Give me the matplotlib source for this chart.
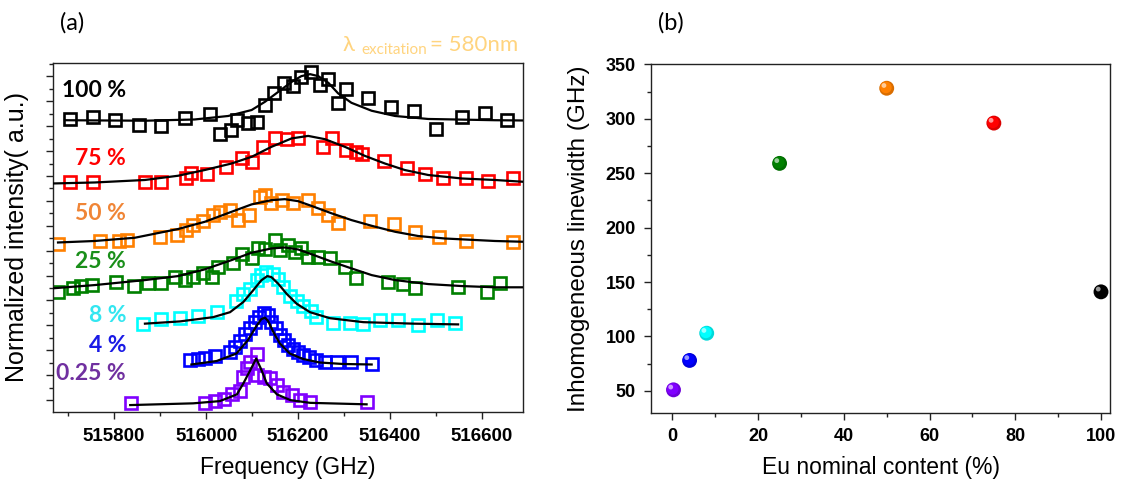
import matplotlib
matplotlib.use("Agg")
import matplotlib.pyplot as plt
from matplotlib.ticker import MultipleLocator, NullFormatter, FormatStrFormatter
from matplotlib.transforms import offset_copy
from matplotlib.colors import to_rgb

plt.rcParams["font.family"] = ["Liberation Sans", "DejaVu Sans"]

# =============================================================================
# (a) spectra, frequency in GHz, intensity in a.u. (curves stacked with offsets)
# =============================================================================
f_100 = [515703, 515753, 515801, 515854, 515901, 515954, 516009, 516031, 516055, 516068,
         516091, 516111, 516128, 516148, 516170, 516189, 516207, 516229, 516247, 516266,
         516286, 516305, 516353, 516403, 516452, 516500, 516556, 516606, 516654]
i_100 = [11.27, 11.35, 11.24, 11.04, 11.00, 11.31, 11.49, 10.68, 10.84, 11.24,
         11.11, 11.18, 11.85, 12.32, 12.74, 12.61, 12.98, 13.18, 12.65, 12.88,
         11.92, 12.48, 12.12, 11.78, 11.61, 10.87, 11.35, 11.55, 11.24]
fitf_100 = [515693, 515867, 515975, 516048, 516099, 516128, 516157, 516186, 516207, 516226,
            516244, 516266, 516287, 516316, 516360, 516411, 516483, 516628, 516688]
fiti_100 = [11.24, 11.22, 11.27, 11.41, 11.65, 11.98, 12.38, 12.78, 13.01, 13.09,
            13.01, 12.74, 12.32, 11.94, 11.62, 11.41, 11.29, 11.24, 11.23]

f_75 = [515703, 515753, 515867, 515903, 515957, 515968, 516002, 516044, 516077, 516099,
        516124, 516149, 516175, 516200, 516255, 516273, 516305, 516327, 516338, 516387,
        516436, 516476, 516516, 516566, 516614, 516668]
i_75 = [8.74, 8.74, 8.74, 8.74, 8.93, 9.13, 9.10, 9.37, 9.71, 9.57,
        10.17, 10.51, 10.48, 10.53, 10.17, 10.53, 10.04, 9.95, 9.87, 9.60,
        9.33, 9.10, 8.93, 8.93, 8.80, 8.90]
fitf_75 = [515667, 515758, 515867, 515939, 515997, 516055, 516099, 516142, 516186, 516222,
           516258, 516302, 516345, 516389, 516432, 516483, 516556, 516628, 516688]
fiti_75 = [8.70, 8.74, 8.84, 9.01, 9.24, 9.50, 9.77, 10.17, 10.51, 10.61,
           10.48, 10.17, 9.81, 9.50, 9.24, 9.04, 8.90, 8.84, 8.77]

f_50 = [515679, 515769, 515810, 515827, 515899, 515936, 515957, 515972, 515994, 516015,
        516030, 516052, 516070, 516093, 516117, 516128, 516142, 516164, 516189, 516222,
        516244, 516265, 516287, 516356, 516409, 516454, 516507, 516566, 516668]
i_50 = [6.25, 6.39, 6.39, 6.43, 6.56, 6.63, 6.83, 7.03, 7.19, 7.43,
        7.56, 7.63, 7.23, 7.43, 8.17, 8.23, 7.90, 8.03, 7.90, 8.03,
        7.70, 7.43, 7.10, 7.19, 7.06, 6.76, 6.56, 6.39, 6.36]
fitf_50 = [515678, 515758, 515845, 515939, 515997, 516055, 516099, 516142, 516171, 516200,
           516229, 516273, 516316, 516360, 516411, 516461, 516519, 516628, 516688]
fiti_50 = [6.33, 6.39, 6.52, 6.87, 7.16, 7.56, 7.86, 8.03, 8.07, 7.99,
           7.80, 7.50, 7.23, 7.00, 6.76, 6.59, 6.49, 6.39, 6.36]

f_25 = [515678, 515711, 515729, 515751, 515805, 515843, 515874, 515903, 515932, 515954,
        515972, 515994, 516012, 516026, 516059, 516077, 516099, 516113, 516128, 516149,
        516160, 516178, 516193, 516207, 516222, 516244, 516269, 516302, 516327, 516396,
        516429, 516454, 516548, 516610, 516639]
i_25 = [4.35, 4.49, 4.58, 4.62, 4.75, 4.58, 4.71, 4.69, 4.95, 4.82,
        4.95, 5.09, 4.95, 5.33, 5.49, 5.86, 5.69, 6.09, 6.05, 6.43,
        6.02, 6.22, 5.96, 6.09, 5.76, 5.76, 5.69, 5.35, 4.89, 4.75,
        4.66, 4.49, 4.53, 4.35, 4.69]
fitf_25 = [515667, 515758, 515867, 515939, 515997, 516055, 516099, 516142, 516171, 516200,
           516229, 516273, 516316, 516360, 516411, 516483, 516556, 516628, 516688]
fiti_25 = [4.49, 4.62, 4.82, 4.98, 5.25, 5.62, 5.92, 6.09, 6.13, 6.05,
           5.86, 5.56, 5.29, 5.02, 4.82, 4.66, 4.58, 4.53, 4.53]

f_8 = [515863, 515903, 515943, 515983, 516023, 516066, 516081, 516095, 516110, 516120,
       516131, 516146, 516157, 516168, 516182, 516197, 516211, 516229, 516240, 516276,
       516313, 516342, 516378, 516418, 516461, 516501, 516541]
i_8 = [3.07, 3.24, 3.29, 3.37, 3.53, 3.96, 4.27, 4.47, 4.81, 5.01,
       5.14, 5.07, 4.87, 4.54, 4.20, 3.96, 3.78, 3.56, 3.33, 3.10,
       3.10, 3.07, 3.20, 3.20, 3.00, 3.20, 3.10]
fitf_8 = [515867, 515943, 516015, 516052, 516081, 516102, 516120, 516133, 516142, 516157,
          516175, 516197, 516226, 516269, 516342, 516451, 516548]
fiti_8 = [3.07, 3.16, 3.33, 3.53, 3.94, 4.40, 4.81, 4.98, 4.94, 4.67,
          4.27, 3.87, 3.53, 3.29, 3.13, 3.07, 3.04]

f_4 = [515965, 515983, 515997, 516019, 516052, 516062, 516073, 516084, 516095, 516106,
       516115, 516126, 516135, 516142, 516152, 516160, 516169, 516178, 516189, 516200,
       516211, 516224, 516240, 516258, 516284, 516316, 516360]
i_4 = [1.61, 1.67, 1.70, 1.78, 1.94, 2.14, 2.37, 2.64, 2.88, 3.15,
       3.35, 3.48, 3.41, 3.15, 2.88, 2.61, 2.41, 2.21, 2.05, 1.94,
       1.83, 1.74, 1.61, 1.54, 1.51, 1.51, 1.43]
fitf_4 = [515968, 516023, 516066, 516091, 516110, 516120, 516128, 516135, 516146, 516160,
          516182, 516211, 516247, 516298, 516360]
fiti_4 = [1.43, 1.57, 1.87, 2.41, 2.99, 3.25, 3.31, 3.17, 2.74, 2.28,
          1.87, 1.65, 1.51, 1.45, 1.43]

f_025 = [515836, 515998, 516019, 516038, 516056, 516074, 516081, 516088, 516096, 516110,
         516110, 516125, 516139, 516154, 516168, 516186, 516204, 516226, 516349]
i_025 = [-0.13, -0.13, -0.04, 0.04, 0.23, 0.36, 0.94, 1.27, 1.54, 1.84,
         1.00, 0.94, 0.87, 0.60, 0.33, 0.20, 0.00, -0.07, -0.07]
fitf_025 = [515835, 515972, 516030, 516067, 516081, 516096, 516109, 516119, 516132, 516154,
            516183, 516226, 516349]
fiti_025 = [-0.20, -0.13, -0.04, 0.23, 0.67, 1.20, 1.67, 1.27, 0.67, 0.23,
            0.00, -0.11, -0.17]

content_labels = ["100 %", "75 %", "50 %", "25 %", "8 %", "4 %", "0.25 %"]
label_y = [12.42, 9.71, 7.50, 5.56, 3.41, 2.21, 1.07]
marker_colors = ["#000000", "#FF0000", "#FF8000", "#008000", "#00FFFF", "#0000FF", "#8000FF"]
text_colors = ["#000000", "#FF0000", "#F08536", "#1A8F1A", "#33E6F0", "#1A1AE6", "#7030A0"]

# =============================================================================
# (b) inhomogeneous linewidth vs Eu content
# =============================================================================
eu_content = [0.25, 4, 8, 25, 50, 75, 100]
linewidth_ghz = [51, 78, 103, 259, 328, 296, 141]
sphere_colors = ["#8000FF", "#0000FF", "#00FFFF", "#008000", "#FF8000", "#FF0000", "#000000"]

# =============================================================================
# FIGURE
# =============================================================================
W, H = 1130, 484
fig = plt.figure(figsize=(W / 100, H / 100), dpi=100)

ax = fig.add_axes([52.5 / W, 1 - 412.3 / H, 470 / W, 349.6 / H])
series = [
    (f_100, i_100, fitf_100, fiti_100),
    (f_75, i_75, fitf_75, fiti_75),
    (f_50, i_50, fitf_50, fiti_50),
    (f_25, i_25, fitf_25, fiti_25),
    (f_8, i_8, fitf_8, fiti_8),
    (f_4, i_4, fitf_4, fiti_4),
    (f_025, i_025, fitf_025, fiti_025),
]
for (fx, iy, ffx, fiy), col in zip(series, marker_colors):
    ax.plot(fx, iy, ls="none", marker="s", ms=8.2, mfc="none", mec=col, mew=1.9, zorder=2)
for (fx, iy, ffx, fiy) in series:
    ax.plot(ffx, fiy, color="black", lw=1.6, zorder=3)

for txt, y, col in zip(content_labels, label_y, text_colors):
    ax.text(515826, y, txt, color=col, fontsize=16.5, fontweight="bold",
            family=["Lato", "DejaVu Sans"], ha="right", va="center", zorder=4)

ax.set_xlim(515666, 516688)
ax.set_ylim(-0.49, 13.55)
ax.xaxis.set_major_locator(MultipleLocator(200))
ax.xaxis.set_minor_locator(MultipleLocator(100))
ax.xaxis.set_major_formatter(FormatStrFormatter("%d"))
ax.yaxis.set_major_locator(MultipleLocator(1))
ax.yaxis.set_minor_locator(MultipleLocator(0.5))
ax.yaxis.set_major_formatter(NullFormatter())
ax.tick_params(which="both", direction="out", top=False, right=False, width=1, colors="#222222")
ax.tick_params(which="major", length=5, pad=6, labelsize=13.5, labelcolor="black")
ax.tick_params(which="minor", length=3)
for lbl in ax.get_xticklabels():
    lbl.set_fontweight("bold")
for s in ax.spines.values():
    s.set_linewidth(1.0)
    s.set_color("#222222")
ax.set_xlabel("Frequency (GHz)", fontsize=16.5)
ax.set_ylabel("Normalized intensity( a.u.)", fontsize=18)
ax.xaxis.set_label_coords(0.5, -0.125)
ax.yaxis.set_label_coords(-0.051, 0.5)

# --- panel (b) ---
ax2 = fig.add_axes([651 / W, 1 - 412.7 / H, 459 / W, 348.4 / H])


def lighter(c, amt):
    r, g, b = to_rgb(c)
    return (r + (1 - r) * amt, g + (1 - g) * amt, b + (1 - b) * amt)


def darker(c, amt):
    r, g, b = to_rgb(c)
    return (r * (1 - amt), g * (1 - amt), b * (1 - amt))


ax2.scatter(eu_content, linewidth_ghz, s=115, c=[darker(c, 0.15) for c in sphere_colors],
            edgecolors="none", zorder=3)
hl1 = offset_copy(ax2.transData, fig=fig, x=-0.6, y=0.6, units="points")
ax2.scatter(eu_content, linewidth_ghz, s=70, c=sphere_colors, edgecolors="none",
            transform=hl1, zorder=4)
hl2 = offset_copy(ax2.transData, fig=fig, x=-2.0, y=2.0, units="points")
ax2.scatter(eu_content, linewidth_ghz, s=12, c=[lighter(c, 0.6) for c in sphere_colors],
            edgecolors="none", transform=hl2, zorder=5)

ax2.set_xlim(-5, 102.1)
ax2.set_ylim(30, 350)
ax2.xaxis.set_major_locator(MultipleLocator(20))
ax2.xaxis.set_minor_locator(MultipleLocator(10))
ax2.yaxis.set_major_locator(MultipleLocator(50))
ax2.yaxis.set_minor_locator(MultipleLocator(25))
ax2.tick_params(which="both", direction="out", top=False, right=False, width=1, colors="#222222")
ax2.tick_params(which="major", length=5, pad=6, labelsize=13, labelcolor="black")
ax2.tick_params(which="minor", length=3)
for lbl in ax2.get_xticklabels() + ax2.get_yticklabels():
    lbl.set_fontweight("bold")
for s in ax2.spines.values():
    s.set_linewidth(1.0)
    s.set_color("#222222")
ax2.set_xlabel("Eu nominal content (%)", fontsize=16.5)
ax2.set_ylabel("Inhomogeneous linewidth (GHz)", fontsize=17.5)
ax2.xaxis.set_label_coords(0.5, -0.125)
ax2.yaxis.set_label_coords(-0.133, 0.5)

# --- panel letters and excitation wavelength ---
fig.text(72 / W, 1 - 23 / H, "(a)", fontsize=17, family=["Lato", "DejaVu Sans"],
         ha="center", va="center")
fig.text(671 / W, 1 - 23 / H, "(b)", fontsize=17, family=["Lato", "DejaVu Sans"],
         ha="center", va="center")
lam_col = "#FFD47F"
fig.text(343 / W, 1 - 51 / H, "λ", fontsize=16, color=lam_col,
         family=["Lato", "DejaVu Sans"], va="baseline")
fig.text(361 / W, 1 - 54 / H, "excitation", fontsize=11, color=lam_col,
         family=["Lato", "DejaVu Sans"], va="baseline")
fig.text(430 / W, 1 - 51 / H, "= 580nm", fontsize=16, color=lam_col,
         family=["Lato", "DejaVu Sans"], va="baseline")

fig.savefig("out.png", dpi=100)
plt.close(fig)
